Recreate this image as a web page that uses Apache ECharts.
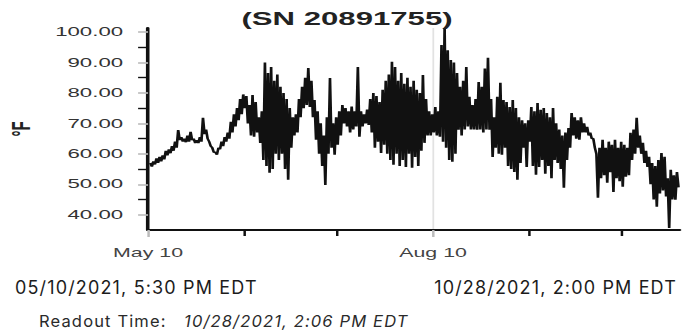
<!DOCTYPE html>
<html>
<head>
<meta charset="utf-8">
<script src="https://cdn.jsdelivr.net/npm/echarts@6/dist/echarts.min.js"></script>
<style>
  html, body { margin: 0; padding: 0; background: #fff; }
  #wrap { position: relative; width: 694px; height: 335px; overflow: hidden; }
  /* the source picture is stretched sideways, so the chart is drawn narrow and widened */
  #chart { position: absolute; left: 0; top: 0; width: 390px; height: 335px; transform: scaleX(1.7795); transform-origin: 0 0; }
  .note { position: absolute; font-family: Inter, 'Noto Sans', sans-serif; color: #1c1c1c; white-space: nowrap; line-height: 1; letter-spacing: 1.15px; }
</style>
</head>
<body>
<div id="wrap">
  <div id="chart"></div>
  <div class="note" style="left:15px; top:279px; font-size:18px;">05/10/2021, 5:30 PM EDT</div>
  <div class="note" style="right:17px; top:279px; font-size:18px;">10/28/2021, 2:00 PM EDT</div>
  <div class="note" style="left:39px; top:313px; font-size:16.5px; color:#2a2a2a;">Readout Time:&nbsp;&nbsp; <i>10/28/2021, 2:06 PM EDT</i></div>
</div>
<script>
// readings every 12 h from 05/10/2021 5:30 PM: evening, next morning, evening, ...
const readingsMay = [
  57, 55.8, 57.5, 56.5, 58.5, 57, 59, 57.5, 59.5, 58.2, 61, 59.5, 61.5, 60.2, 62.5, 61,
  64, 62, 67.8, 64.5, 65.5, 64, 65, 63.8, 66, 64, 67.2, 64.5, 65, 63.5, 64.5, 63.5,
  65.5, 64, 71.8, 66.5, 68, 65, 64, 62.5, 62, 60.5, 60.5, 59.7
]
const readingsJun = [
  62, 61.5, 64, 62.5, 65.5, 64, 67, 65, 70.5, 67, 73, 69, 75, 71, 78, 73,
  79.5, 75, 79, 70, 76, 66, 79.3, 65.6, 77, 67, 72, 63.6, 74, 58, 90, 56,
  86.5, 53.8, 88.5, 55, 84, 60, 86, 58, 82, 60, 80, 55, 78, 51.5, 75, 62,
  72, 66, 73, 67, 78, 72, 82, 75, 85, 76, 88.2, 75.4
]
const readingsJul = [
  84, 72, 77.7, 64.6, 74, 60, 70, 56, 66, 49.8, 72, 60, 84.9, 62, 70, 59.7,
  72, 63, 74, 66, 76, 70, 75, 69, 74, 67, 75.5, 68, 74, 69, 88.5, 65.6,
  74, 69, 73, 70, 74.5, 69.5, 78, 67, 80, 62, 79, 64, 77, 60.3, 81, 63,
  84, 60, 86, 58, 90.2, 56.4, 88.5, 60, 84, 56, 86.5, 58, 83, 55.7
]
const readingsAug = [
  85, 60, 82, 55.4, 84, 59, 81, 56, 80, 61, 85.9, 63.6, 78, 66, 74, 66,
  73, 67, 75.4, 66, 74, 65.6, 95.7, 64, 101.3, 62, 94, 58, 90.8, 57.4, 90, 60,
  86.5, 67.9, 82, 66, 84, 68, 88.5, 69, 78.7, 68, 76, 68, 78, 67.9, 83.6, 68,
  82, 67, 88, 68, 91.5, 67.9, 78, 59, 72, 62, 78.7, 60, 83.3, 59.7
]
const readingsSep = [
  77.7, 62, 77, 56, 75.4, 55, 77.7, 54, 75, 51.5, 72, 57, 71, 62, 70, 55.7,
  71, 64, 75.4, 56, 74, 53.1, 76.7, 55.7, 74.5, 58, 75, 53.5, 73.4, 56, 72, 52,
  75, 58, 70, 57, 68, 55, 66, 48.9, 67, 58, 68.5, 62, 73.4, 66, 72, 65,
  71, 64.6, 72, 67, 70, 67, 68.9, 66, 67, 65, 65, 62
]
const readingsOct = [
  60, 45.6, 62, 52, 64.6, 53, 62, 50.5, 64, 54, 63, 47.5, 64.6, 52, 62, 51,
  64, 49.2, 63, 52.5, 62, 53, 66.9, 58, 68, 60, 71.8, 62, 66, 60, 63.6, 57,
  61, 55.7, 59, 50, 57, 45, 56, 42.6, 58, 47, 60.3, 48, 59, 46, 52, 35.7,
  54.8, 45, 53, 44.9, 54, 49
]

const labelDates = [Date.UTC(2021, 4, 10), Date.UTC(2021, 7, 10)]
const tickDates = [Date.UTC(2021, 5, 10), Date.UTC(2021, 6, 10), Date.UTC(2021, 8, 10), Date.UTC(2021, 9, 10)]
const labelTemps = [40, 50, 60, 70, 80, 90, 100]
const tickTemps = [45, 55, 65, 75, 85, 95]
const MONTHS = ['Jan', 'Feb', 'Mar', 'Apr', 'May', 'Jun', 'Jul', 'Aug', 'Sep', 'Oct', 'Nov', 'Dec']

const START = Date.UTC(2021, 4, 10, 17, 30)
const STEP = 12 * 3600 * 1000
const temps = [].concat(readingsMay, readingsJun, readingsJul, readingsAug, readingsSep, readingsOct)
const points = temps.map((v, i) => [START + i * STEP, v])

const FONT = "'Liberation Sans', Arial, sans-serif"
const xMin = Date.UTC(2021, 4, 10)
const xMax = Date.UTC(2021, 9, 28, 14)
const yMin = 35
const yMax = 101.3

const chart = echarts.init(document.getElementById('chart'), null, { renderer: 'svg' })

// time axes choke on customValues, so the x axes are plain value axes holding timestamps
chart.setOption({
  animation: false,
  backgroundColor: '#fff',
  title: {
    text: '(SN 20891755)',
    left: 'center',
    top: 10,
    padding: 0,
    textStyle: { fontFamily: FONT, fontSize: 17.5, fontWeight: 'bold', color: '#222' }
  },
  // keep the grid where it is, even if the axis name sits near the edge
  grid: { left: 83.2, right: 8.1, top: 28, bottom: 105, containLabel: false, outerBoundsMode: 'none' },
  xAxis: [
    {
      // black axis with the unlabelled monthly ticks
      type: 'value',
      min: xMin,
      max: xMax,
      axisLine: { show: true, lineStyle: { color: '#111', width: 2 } },
      axisTick: { show: true, customValues: tickDates, length: 6, lineStyle: { color: '#111', width: 1.4 } },
      axisLabel: { show: false },
      splitLine: { show: false }
    },
    {
      // grey labelled ticks and the vertical guide
      type: 'value',
      min: xMin,
      max: xMax,
      position: 'bottom',
      axisLine: { show: false },
      axisTick: { show: true, customValues: labelDates, length: 7, lineStyle: { color: '#bbb', width: 1.4 } },
      axisLabel: {
        customValues: labelDates,
        margin: 17,
        fontFamily: FONT,
        fontSize: 12,
        color: '#444',
        formatter: (v) => {
          const d = new Date(v)
          return MONTHS[d.getUTCMonth()] + ' ' + d.getUTCDate()
        }
      },
      splitLine: { show: true, lineStyle: { color: '#e2e2e2', width: 1 } }
    }
  ],
  yAxis: [
    {
      type: 'value',
      min: yMin,
      max: yMax,
      axisLine: { show: true, lineStyle: { color: '#111', width: 2 } },
      axisTick: { show: true, customValues: tickTemps, length: 5.6, lineStyle: { color: '#111', width: 1.4 } },
      axisLabel: { show: false },
      splitLine: { show: false },
      name: '°F',
      nameLocation: 'middle',
      nameRotate: 90,
      nameGap: 64,
      nameTextStyle: { fontFamily: FONT, fontSize: 15, fontWeight: 'bold', color: '#222' }
    },
    {
      type: 'value',
      min: yMin,
      max: yMax,
      position: 'left',
      axisLine: { show: false },
      axisTick: { show: true, customValues: labelTemps, length: 5.6, lineStyle: { color: '#bbb', width: 1.6 } },
      axisLabel: {
        customValues: labelTemps,
        margin: 14,
        fontFamily: FONT,
        fontSize: 12.5,
        color: '#333',
        formatter: (v) => v.toFixed(2)
      },
      splitLine: { show: false }
    }
  ],
  series: [
    {
      type: 'line',
      data: points,
      xAxisIndex: 0,
      yAxisIndex: 0,
      showSymbol: false,
      symbol: 'none',
      sampling: null,
      lineStyle: { color: '#111', width: 1.5, join: 'bevel' }
    }
  ]
})
</script>
</body>
</html>
